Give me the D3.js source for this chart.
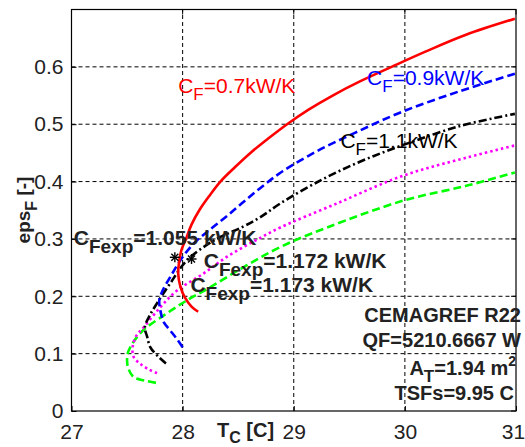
<!DOCTYPE html>
<html><head><meta charset="utf-8">
<script src="https://cdn.jsdelivr.net/npm/d3@7"></script>
<style>body{margin:0;background:#fff;} svg{display:block;font-family:"Liberation Sans",Arial,sans-serif;}</style>
</head><body><svg id="c" width="525" height="447"></svg>
<script>
// ---------- data ----------
const xTicks = [27, 28, 29, 30, 31];
const yTicks = [0, 0.1, 0.2, 0.3, 0.4, 0.5, 0.6];
const yTickLabels = ["0", "0.1", "0.2", "0.3", "0.4", "0.5", "0.6"];

const cf07 = [[28.14,0.173],[28.08,0.182],[28.02,0.198],[27.98,0.217],[27.96,0.24],[27.97,0.262],[27.99,0.281],[28.03,0.3],[28.08,0.325],[28.15,0.35],[28.24,0.375],[28.34,0.4],[28.47,0.425],[28.61,0.45],[28.77,0.475],[28.94,0.5],[29.13,0.525],[29.35,0.55],[29.6,0.575],[29.88,0.6],[30.19,0.627],[30.55,0.656],[30.99,0.684]];
const cf09 = [[28.0,0.111],[27.95,0.125],[27.89,0.14],[27.83,0.155],[27.8,0.175],[27.79,0.193],[27.82,0.21],[27.89,0.234],[27.98,0.263],[28.1,0.292],[28.25,0.317],[28.4,0.34],[28.55,0.365],[28.72,0.392],[28.9,0.418],[29.2,0.452],[29.55,0.485],[29.98,0.522],[30.5,0.558],[30.99,0.588]];
const cf11 = [[27.85,0.083],[27.78,0.095],[27.71,0.111],[27.68,0.13],[27.66,0.146],[27.7,0.165],[27.77,0.188],[27.89,0.223],[28.04,0.263],[28.28,0.297],[28.55,0.322],[28.7,0.338],[28.88,0.362],[29.25,0.403],[29.6,0.435],[29.96,0.462],[30.5,0.497],[30.99,0.518]];
const cf13 = [[27.77,0.066],[27.7,0.072],[27.62,0.082],[27.56,0.094],[27.55,0.111],[27.58,0.13],[27.65,0.146],[27.8,0.181],[27.95,0.21],[28.19,0.24],[28.4,0.269],[28.7,0.302],[28.88,0.32],[29.39,0.362],[29.98,0.41],[30.56,0.442],[30.99,0.463]];
const cf15 = [[27.76,0.049],[27.66,0.053],[27.56,0.059],[27.51,0.075],[27.5,0.089],[27.51,0.103],[27.62,0.136],[27.84,0.168],[28.04,0.193],[28.25,0.216],[28.55,0.251],[28.88,0.286],[29.3,0.32],[29.99,0.367],[30.56,0.393],[30.99,0.416]];
const expPoints = [[27.93,0.268],[28.08,0.265]];

const curveLabels = [
  {main:"C", sub:"F", rest:"=0.7kW/K", x:27.96, y:0.555, color:"#ff0000"},
  {main:"C", sub:"F", rest:"=0.9kW/K", x:29.66, y:0.568, color:"#0000ff"},
  {main:"C", sub:"F", rest:"=1.1kW/K", x:29.42, y:0.459, color:"#000000"}
];
const expLabels = [
  {main:"C", sub:"Fexp", rest:"=1.055 kW/K", x:27.02, y:0.29},
  {main:"C", sub:"Fexp", rest:"=1.172 kW/K", x:28.19, y:0.249},
  {main:"C", sub:"Fexp", rest:"=1.173 kW/K", x:28.07, y:0.207}
];
const infoLines = ["CEMAGREF R22", "QF=5210.6667 W"];
const infoArea = {main:"A", sub:"T", rest:"=1.94 m", sup:"2"};
const infoTsf = "TSFs=9.95 C";

// ---------- layout ----------
const svg = d3.select("#c");
const L = 71.5, R = 516, T = 9.5, B = 411;
const x = d3.scaleLinear().domain([27, 31]).range([L, R]);
const y = d3.scaleLinear().domain([0, 0.7]).range([B, T]);

// grid
const g = svg.append("g");
g.selectAll(".gx").data(xTicks.slice(1, -1)).enter().append("line")
  .attr("x1", d => x(d)).attr("x2", d => x(d)).attr("y1", B).attr("y2", T)
  .attr("stroke", "#000").attr("stroke-width", 1).attr("stroke-dasharray", "4,3");
g.selectAll(".gy").data(yTicks.slice(1)).enter().append("line")
  .attr("y1", d => y(d)).attr("y2", d => y(d)).attr("x1", L).attr("x2", R)
  .attr("stroke", "#000").attr("stroke-width", 1).attr("stroke-dasharray", "4,3");

// curves
const line = d3.line().x(d => x(d[0])).y(d => y(d[1])).curve(d3.curveCatmullRom.alpha(0.5));
const styles = [
  {data: cf15, color: "#00ff00", dash: "8,4"},
  {data: cf13, color: "#ff00ff", dash: "2.5,3"},
  {data: cf11, color: "#000000", dash: "8,3,2,3"},
  {data: cf09, color: "#0000ff", dash: "8,4"},
  {data: cf07, color: "#ff0000", dash: null}
];
styles.forEach(s => {
  svg.append("path").attr("d", line(s.data)).attr("fill", "none")
    .attr("stroke", s.color).attr("stroke-width", 2.6)
    .attr("stroke-dasharray", s.dash);
});

// experimental points (asterisks)
expPoints.forEach(p => {
  const cx = x(p[0]), cy = y(p[1]), r = 5;
  const pg = svg.append("g").attr("stroke", "#000").attr("stroke-width", 1.4);
  pg.append("line").attr("x1", cx - r).attr("x2", cx + r).attr("y1", cy).attr("y2", cy);
  pg.append("line").attr("x1", cx).attr("x2", cx).attr("y1", cy - r).attr("y2", cy + r);
  pg.append("line").attr("x1", cx - r*0.7).attr("x2", cx + r*0.7).attr("y1", cy - r*0.7).attr("y2", cy + r*0.7);
  pg.append("line").attr("x1", cx - r*0.7).attr("x2", cx + r*0.7).attr("y1", cy + r*0.7).attr("y2", cy - r*0.7);
});

// axes box
svg.append("rect").attr("x", L).attr("y", T).attr("width", R - L).attr("height", B - T)
  .attr("fill", "none").attr("stroke", "#000").attr("stroke-width", 1.2);

// axes with inward ticks
const xAxis = d3.axisBottom(x).tickValues(xTicks).tickSize(-5).tickPadding(13).tickFormat(d3.format("d"));
const xa = svg.append("g").attr("transform", `translate(0,${B})`).call(xAxis);
const yAxis = d3.axisLeft(y).tickValues(yTicks).tickSize(-5).tickPadding(13).tickFormat((d, i) => yTickLabels[i]);
const ya = svg.append("g").attr("transform", `translate(${L},0)`).call(yAxis);
[xa, ya].forEach(a => {
  a.select(".domain").remove();
  a.selectAll("text").attr("font-size", 21).attr("font-family", "Liberation Sans, Arial, sans-serif").attr("fill", "#222");
  a.selectAll("line").attr("stroke", "#000");
});
ya.selectAll("text").attr("dx", 5);
xa.selectAll(".tick").filter(d => d === 31).select("text").attr("dx", -3);
// top/right ticks
svg.selectAll(".tt").data(xTicks).enter().append("line")
  .attr("x1", d => x(d)).attr("x2", d => x(d)).attr("y1", T).attr("y2", T + 5).attr("stroke", "#000");
svg.selectAll(".rt").data(yTicks).enter().append("line")
  .attr("y1", d => y(d)).attr("y2", d => y(d)).attr("x1", R).attr("x2", R - 5).attr("stroke", "#000");

// helper for sub/sup text
function subText(sel, o, subSize, dy) {
  sel.append("tspan").text(o.main);
  sel.append("tspan").attr("font-size", subSize).attr("dy", dy).text(o.sub);
  sel.append("tspan").attr("dy", -dy).text(o.rest);
  if (o.sup) sel.append("tspan").attr("font-size", subSize - 3).attr("dy", -9).text(o.sup);
}

// curve labels
curveLabels.forEach(o => {
  const t = svg.append("text").attr("x", x(o.x)).attr("y", y(o.y))
    .attr("font-size", 21).attr("fill", o.color);
  subText(t, o, 17, 7);
});
// exp labels
expLabels.forEach(o => {
  const t = svg.append("text").attr("x", x(o.x)).attr("y", y(o.y))
    .attr("font-size", 21).attr("font-weight", "bold").attr("fill", "#222");
  subText(t, o, 19, 8);
});

// info block
const infoY = [322, 347];
infoLines.forEach((s, i) => {
  svg.append("text").attr("x", 521).attr("y", infoY[i]).attr("text-anchor", "end")
    .attr("font-size", 20).attr("font-weight", "bold").attr("fill", "#222").text(s);
});
const ta = svg.append("text").attr("x", 516).attr("y", 375).attr("text-anchor", "end")
  .attr("font-size", 20).attr("font-weight", "bold").attr("fill", "#222");
subText(ta, infoArea, 17, 7);
svg.append("text").attr("x", 514).attr("y", 400).attr("text-anchor", "end")
  .attr("font-size", 20).attr("font-weight", "bold").attr("fill", "#222").text(infoTsf);

// axis titles
const xt = svg.append("text").attr("x", 217).attr("y", 437)
  .attr("font-size", 20).attr("font-weight", "bold").attr("fill", "#222");
xt.append("tspan").text("T");
xt.append("tspan").attr("font-size", 16).attr("dy", 6).text("C");
xt.append("tspan").attr("dy", -6).text(" [C]");

const yt = svg.append("text").attr("transform", "translate(30,210) rotate(-90)")
  .attr("text-anchor", "middle").attr("font-size", 19).attr("font-weight", "bold").attr("fill", "#222");
yt.append("tspan").text("eps");
yt.append("tspan").attr("font-size", 16).attr("dy", 7).text("F");
yt.append("tspan").attr("dy", -7).text(" [-]");
</script></body></html>
